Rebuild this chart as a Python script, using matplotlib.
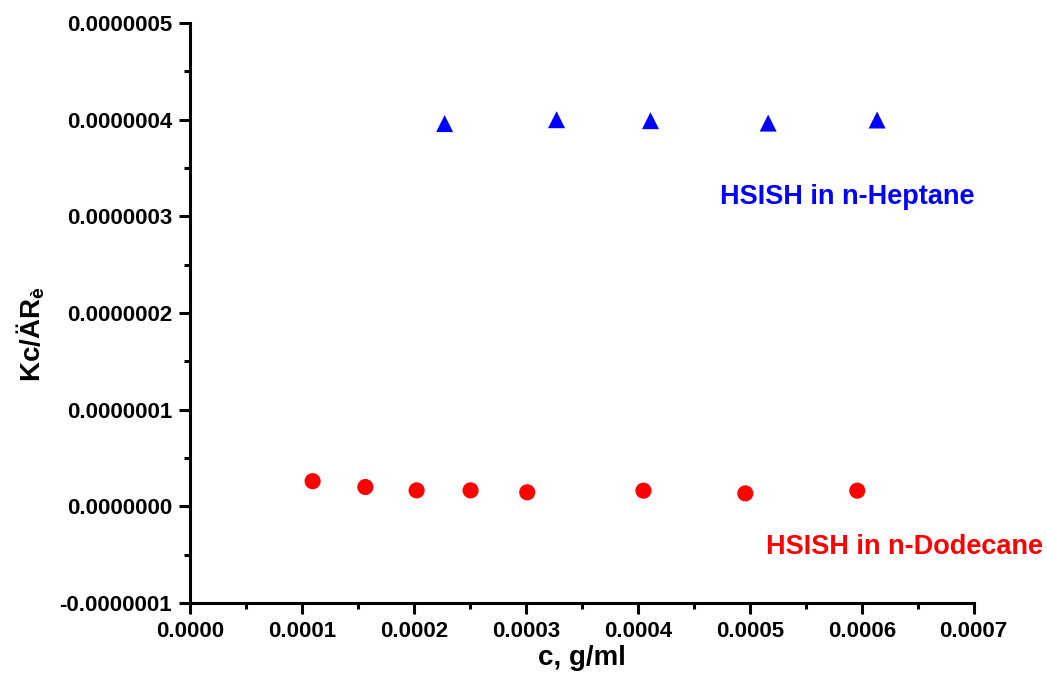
import matplotlib
matplotlib.use("Agg")
import matplotlib.pyplot as plt
from matplotlib.ticker import MultipleLocator, FormatStrFormatter

plt.rcParams['font.family'] = ['Liberation Sans', 'DejaVu Sans']
plt.rcParams['font.weight'] = 'bold'
plt.rcParams['mathtext.fontset'] = 'custom'
plt.rcParams['mathtext.rm'] = 'Liberation Sans:bold'
plt.rcParams['mathtext.bf'] = 'Liberation Sans:bold'
plt.rcParams['mathtext.it'] = 'Liberation Sans:bold'

# Data
heptane_c = [2.274e-4, 3.274e-4, 4.113e-4, 5.164e-4, 6.137e-4]
heptane_kc = [3.96e-7, 4.00e-7, 3.99e-7, 3.965e-7, 3.997e-7]

dodecane_c = [1.095e-4, 1.566e-4, 2.024e-4, 2.506e-4, 3.012e-4, 4.05e-4, 4.96e-4, 5.96e-4]
dodecane_kc = [2.6e-8, 2.0e-8, 1.65e-8, 1.65e-8, 1.45e-8, 1.62e-8, 1.34e-8, 1.62e-8]

fig = plt.figure(figsize=(10.47, 6.98), dpi=100)
ax = fig.add_axes([0.1815, 0.1361, 0.7485, 0.8309])

ax.scatter(heptane_c, heptane_kc, marker='^', s=150, color='#0000ff', edgecolors='none', zorder=3)
ax.scatter(dodecane_c, dodecane_kc, marker='o', s=135, color='#ff0000', edgecolors='none', zorder=3)

ax.set_xlim(0, 0.0007)
ax.set_ylim(-1e-7, 5e-7)
ax.xaxis.set_major_locator(MultipleLocator(0.0001))
ax.xaxis.set_minor_locator(MultipleLocator(0.00005))
ax.yaxis.set_major_locator(MultipleLocator(1e-7))
ax.yaxis.set_minor_locator(MultipleLocator(5e-8))
ax.xaxis.set_major_formatter(FormatStrFormatter('%.4f'))
ax.yaxis.set_major_formatter(FormatStrFormatter('%.7f'))

for side in ['top', 'right']:
    ax.spines[side].set_visible(False)
for side in ['left', 'bottom']:
    ax.spines[side].set_linewidth(2.2)

ax.tick_params(which='major', direction='out', length=8, width=2.2, labelsize=16, pad=5)
ax.tick_params(which='minor', direction='out', length=4.5, width=2.2)
for lab in ax.get_xticklabels() + ax.get_yticklabels():
    lab.set_fontweight('bold')

ax.set_xlabel('c, g/ml', fontsize=20, fontweight='bold', labelpad=2)
ax.set_ylabel('Kc/ÄR$_{\\mathrm{è}}$', fontsize=20, fontweight='bold')
ax.yaxis.set_label_coords(-0.182, 0.463)

ax.text(0.0004732, 3.2e-7, 'HSISH in n-Heptane', color='#0000ff', fontsize=19.5,
        fontweight='bold', ha='left', va='center')
ax.text(0.0005143, -4.2e-8, 'HSISH in n-Dodecane', color='#ff0000', fontsize=19.5,
        fontweight='bold', ha='left', va='center', clip_on=False)

fig.savefig('out.png', dpi=100)
